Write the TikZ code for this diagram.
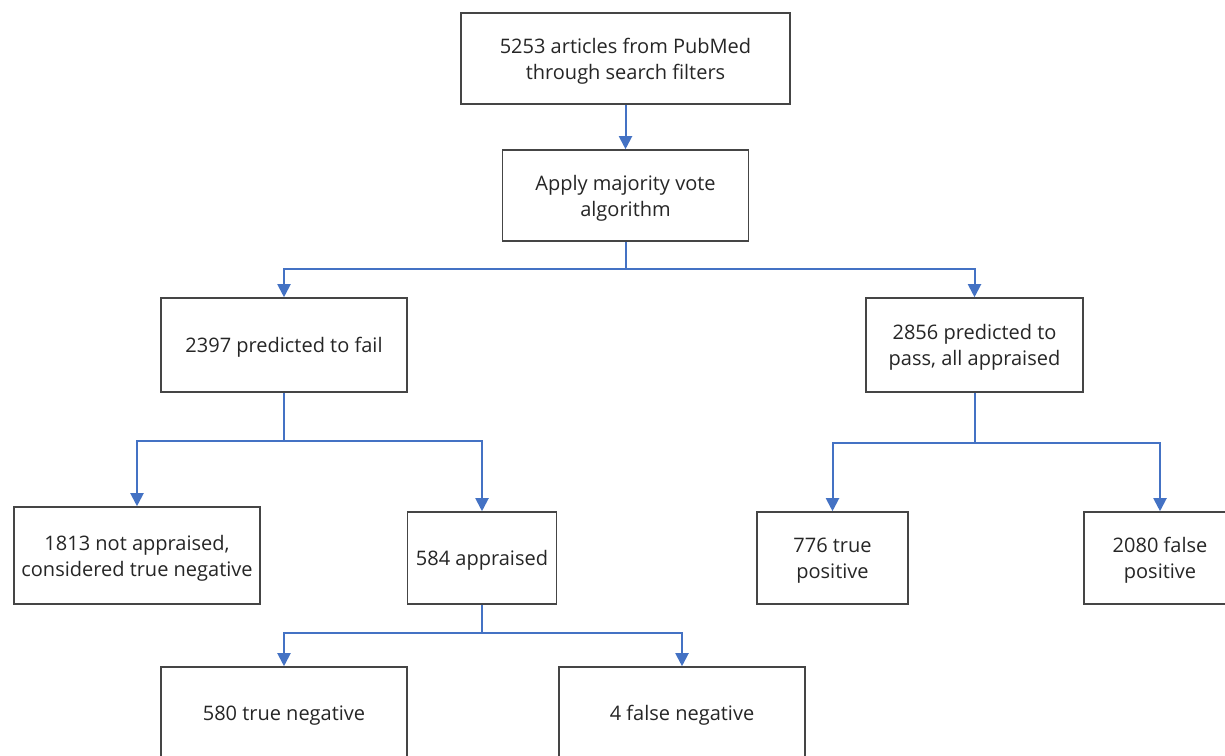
\documentclass[tikz,border=0pt]{standalone}
\usepackage{fontspec}
\setmainfont{Open Sans}
\usetikzlibrary{arrows.meta}
\definecolor{conn}{HTML}{4472C4}
\definecolor{boxline}{HTML}{454545}
\tikzset{
  box/.style={draw=boxline, line width=1.6pt, fill=white, inner sep=0pt, align=center,
    font=\fontsize{20}{26}\selectfont, text=black!85, text depth=0pt},
  conn/.style={draw=conn, line width=2pt},
  arr/.style={conn, -{Triangle[width=13pt,length=13pt]}},
}
\begin{document}
\begin{tikzpicture}[x=1pt,y=-1pt]
\useasboundingbox (0,0) rectangle (1225,755);
\clip (0,0) rectangle (1225,755);
\fill[white] (0,0) rectangle (1225,755);
% boxes
\node[box, minimum width=329pt, minimum height=91pt] (b1) at (625.5,58.5) {5253 articles from PubMed\\through search filters};
\node[box, minimum width=246pt, minimum height=91pt] (b2) at (625.5,195.5) {Apply majority vote\\algorithm};
\node[box, minimum width=246pt, minimum height=94pt] (b3) at (284,345) {2397 predicted to fail};
\node[box, minimum width=217pt, minimum height=94pt] (b4) at (974.5,345) {2856 predicted to\\pass, all appraised};
\node[box, minimum width=246pt, minimum height=97pt] (b5) at (137,555.5) {1813 not appraised,\\considered true negative};
\node[box, minimum width=149pt, minimum height=92pt] (b6) at (482,558) {584 appraised};
\node[box, minimum width=151pt, minimum height=92pt] (b9) at (832.5,558) {776 true\\positive};
\node[box, minimum width=152pt, minimum height=92pt] (b10) at (1160,558) {2080 false\\positive};
\node[box, minimum width=246pt, minimum height=92pt] (b7) at (284,713) {580 true negative};
\node[box, minimum width=246pt, minimum height=92pt] (b8) at (682,713) {4 false negative};
% junctions
\coordinate (j1) at (625.5,269);
\coordinate (j2) at (284,441);
\coordinate (j3) at (974.5,443);
\coordinate (j4) at (482,633);
% connectors
\draw[arr] (b1) -- (b2);
\draw[conn] (b2) -- (j1);
\draw[arr] (j1) -| (b3.north);
\draw[arr] (j1) -| (b4.north);
\draw[conn] (b3) -- (j2);
\draw[arr] (j2) -| (b5.north);
\draw[arr] (j2) -| (b6.north);
\draw[conn] (b4) -- (j3);
\draw[arr] (j3) -| (b9.north);
\draw[arr] (j3) -| (b10.north);
\draw[conn] (b6) -- (j4);
\draw[arr] (j4) -| (b7.north);
\draw[arr] (j4) -| (b8.north);
\end{tikzpicture}
\end{document}
